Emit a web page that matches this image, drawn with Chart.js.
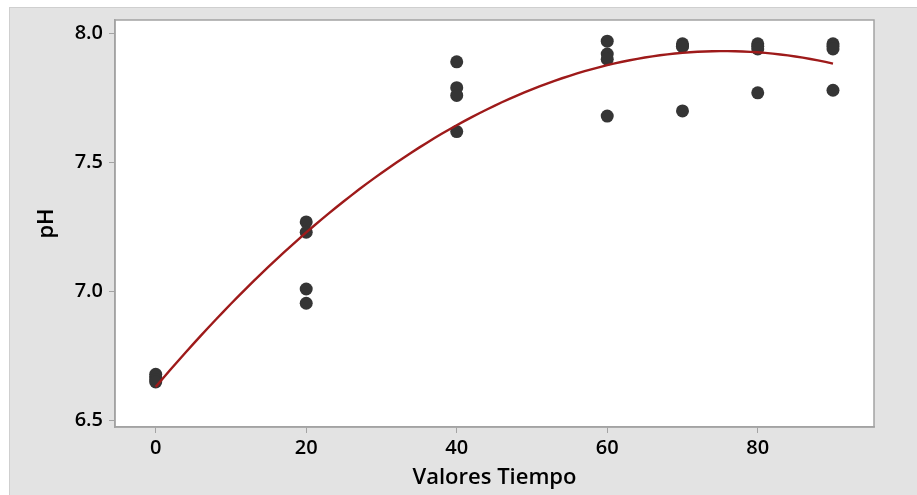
<!DOCTYPE html>
<html>
<head>
<meta charset="utf-8">
<title>pH vs Tiempo</title>
<script src="https://cdn.jsdelivr.net/npm/chart.js@4/dist/chart.umd.min.js"></script>
<style>
  html, body { margin: 0; padding: 0; background: #ffffff; }
  #marco {
    position: absolute; left: 9px; top: 7px; width: 908px; height: 488px;
    box-sizing: border-box; background: #e3e3e3;
    border-left: 1px solid #cfcfcf; border-top: 1px solid #cfcfcf;
  }
  #grafico { position: absolute; left: 0; top: 0; }
</style>
</head>
<body>
<div id="marco"></div>
<canvas id="grafico" width="917" height="495"></canvas>
<script>
// datos medidos: tiempo y pH de cada réplica
var tiempos = [0, 0, 0, 0,
               20, 20, 20, 20,
               40, 40, 40, 40,
               60, 60, 60, 60,
               70, 70, 70, 70,
               80, 80, 80, 80,
               90, 90, 90, 90];
var valoresPH = [6.68, 6.67, 6.66, 6.65,
                 7.27, 7.23, 7.01, 6.955,
                 7.89, 7.79, 7.76, 7.62,
                 7.97, 7.92, 7.90, 7.68,
                 7.96, 7.95, 7.95, 7.70,
                 7.96, 7.95, 7.94, 7.77,
                 7.96, 7.95, 7.94, 7.78];

var ticksX = [0, 20, 40, 60, 80];
var ticksY = [6.5, 7.0, 7.5, 8.0];

var colorPuntos = '#353535';
var colorAjuste = '#9e1a1a';
var colorBorde = '#a3a3a3';

// ajuste cuadrático por mínimos cuadrados (y = a + b x + c x^2)
function ajusteCuadratico(xs, ys) {
  var s = [0, 0, 0, 0, 0], t = [0, 0, 0];
  for (var i = 0; i < xs.length; i++) {
    var p = 1;
    for (var k = 0; k < 5; k++) { s[k] += p; if (k < 3) t[k] += p * ys[i]; p *= xs[i]; }
  }
  var m = [[s[0], s[1], s[2], t[0]],
           [s[1], s[2], s[3], t[1]],
           [s[2], s[3], s[4], t[2]]];
  for (var c = 0; c < 3; c++) {
    for (var r = c + 1; r < 3; r++) {
      var f = m[r][c] / m[c][c];
      for (var j = c; j < 4; j++) m[r][j] -= f * m[c][j];
    }
  }
  var coef = [0, 0, 0];
  for (var r2 = 2; r2 >= 0; r2--) {
    var acc = m[r2][3];
    for (var j2 = r2 + 1; j2 < 3; j2++) acc -= m[r2][j2] * coef[j2];
    coef[r2] = acc / m[r2][r2];
  }
  return coef;
}

var coef = ajusteCuadratico(tiempos, valoresPH);
var curva = [];
for (var x = 0; x <= 90; x += 1) {
  curva.push({ x: x, y: coef[0] + coef[1] * x + coef[2] * x * x });
}

var puntos = tiempos.map(function (t, i) { return { x: t, y: valoresPH[i] }; });

// fondo blanco y marco del área de trazado
var areaTrazado = {
  id: 'areaTrazado',
  beforeDraw: function (chart) {
    var a = chart.chartArea, ctx = chart.ctx;
    ctx.save();
    ctx.fillStyle = '#ffffff';
    ctx.fillRect(a.left, a.top, a.right - a.left, a.bottom - a.top);
    ctx.restore();
  },
  beforeDatasetsDraw: function (chart) {
    var a = chart.chartArea, ctx = chart.ctx;
    ctx.save();
    ctx.strokeStyle = colorBorde;
    ctx.lineWidth = 1.5;
    ctx.strokeRect(a.left, a.top, a.right - a.left, a.bottom - a.top);
    ctx.restore();
  }
};

var fuenteTicks = { family: '"Open Sans", "Noto Sans", sans-serif', size: 20, weight: '600' };
var fuenteTitulo = { family: '"Open Sans", "Noto Sans", sans-serif', size: 22, weight: '600' };

new Chart(document.getElementById('grafico').getContext('2d'), {
  type: 'scatter',
  data: {
    datasets: [{
      type: 'line',
      label: 'Ajuste',
      data: curva,
      borderColor: colorAjuste,
      borderWidth: 2.4,
      pointRadius: 0,
      fill: false,
      order: 0
    }, {
      label: 'pH',
      data: puntos,
      backgroundColor: colorPuntos,
      borderColor: colorPuntos,
      pointRadius: 6.5,
      pointBorderWidth: 0,
      order: 1
    }]
  },
  options: {
    responsive: false,
    animation: false,
    layout: { padding: { left: 0, top: 20, right: 43, bottom: 0 } },
    plugins: { legend: { display: false }, tooltip: { enabled: false } },
    scales: {
      x: {
        type: 'linear',
        min: -5.41,
        max: 95.45,
        afterFit: function (s) { s.height = 68; },
        afterBuildTicks: function (s) { s.ticks = ticksX.map(function (v) { return { value: v }; }); },
        border: { color: colorBorde, width: 1.5 },
        grid: { drawOnChartArea: false, tickLength: 6, color: colorBorde },
        ticks: { font: fuenteTicks, color: '#000000', padding: 3, maxRotation: 0 },
        title: { display: true, text: 'Valores Tiempo', font: fuenteTitulo, color: '#000000', padding: { top: 0, bottom: 4 } }
      },
      y: {
        min: 6.4756,
        max: 8.052,
        afterFit: function (s) { s.width = 115; },
        afterBuildTicks: function (s) { s.ticks = ticksY.map(function (v) { return { value: v }; }); },
        border: { color: colorBorde, width: 1.5 },
        grid: { drawOnChartArea: false, tickLength: 6, color: colorBorde },
        ticks: {
          font: fuenteTicks, color: '#000000', padding: 6,
          callback: function (v) { return Number(v).toFixed(1); }
        },
        title: { display: true, text: 'pH', font: fuenteTitulo, color: '#000000', padding: { top: 34, bottom: 0 } }
      }
    }
  },
  plugins: [areaTrazado]
});
</script>
</body>
</html>
